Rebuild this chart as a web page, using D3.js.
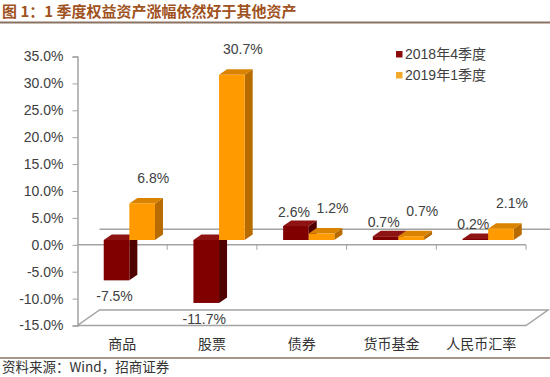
<!DOCTYPE html>
<html>
<head>
<meta charset="utf-8">
<script src="https://cdn.jsdelivr.net/npm/d3@7"></script>
<style>
  body { margin: 0; background: #fff; }
  svg text { font-family: "Liberation Sans", Arial, "Noto Sans CJK SC", sans-serif; }
</style>
</head>
<body>
<div id="chart"></div>
<script>
const categories = ['商品', '股票', '债券', '货币基金', '人民币汇率'];
const seriesNames = ['2018年4季度', '2019年1季度'];
const q4_2018 = [-7.5, -11.7, 2.6, 0.7, 0.2];
const q1_2019 = [6.8, 30.7, 1.2, 0.7, 2.1];
const yTicks = [-15, -10, -5, 0, 5, 10, 15, 20, 25, 30, 35];

const width = 550, height = 377;
const depthX = 22, depthY = 15.5;     // floor depth
const frontX = 7, frontY = 4.8;       // bars sit a bit behind the front plane
const barDX = 8, barDY = 5.5;         // bar depth

const colors = [
  {front: '#800000', side: '#4f0000', top: '#8e1414', legend: '#8b0a0a'},
  {front: '#ff9a00', side: '#b86c00', top: '#d98300', legend: '#f2aa2c'}
];

// plain hyphen instead of d3's unicode minus
const pct = d => d3.format('.1f')(d).replace('\u2212', '-') + '%';

const svg = d3.select('#chart')
              .append('svg')
              .attr('width', width)
              .attr('height', height);

// title + rules
svg.append('text')
   .attr('x', 2)
   .attr('y', 17)
   .style('font-family', '"Noto Sans CJK SC", sans-serif')
   .style('font-weight', 'bold')
   .style('font-size', '15px')
   .style('fill', '#a0521e')
   .text('图 1：1 季度权益资产涨幅依然好于其他资产');

svg.append('line')
   .attr('x1', 0).attr('x2', width)
   .attr('y1', 22.5).attr('y2', 22.5)
   .style('stroke', '#8a7262')
   .style('stroke-width', 2);

svg.append('line')
   .attr('x1', 0).attr('x2', width)
   .attr('y1', 358).attr('y2', 358)
   .style('stroke', '#8a7262')
   .style('stroke-width', 1.5);

svg.append('text')
   .attr('x', 2)
   .attr('y', 372)
   .style('font-family', '"Noto Sans CJK SC", sans-serif')
   .style('font-size', '13.5px')
   .style('fill', '#333')
   .text('资料来源：Wind，招商证券');

// scales
let scaleX = d3.scaleBand().domain(categories).range([77.5, 526]).padding(0);
let scaleS = d3.scaleBand().domain([0, 1]).range([0, scaleX.bandwidth()]).paddingInner(0).paddingOuter(0.75);
let scaleY = d3.scaleLinear().domain([-15, 35]).range([325.5, 56.5]);

const gridColor = '#a3a3a3';
const y0 = scaleY(0), yMin = scaleY(-15);
const xL = scaleX.range()[0], xR = scaleX.range()[1];

// floor
svg.append('path')
   .attr('d', `M${xL},${yMin} L${xR},${yMin} L${xR+depthX},${yMin-depthY} L${xL+depthX},${yMin-depthY} Z`)
   .style('fill', '#fff')
   .style('stroke', gridColor)
   .style('stroke-width', 1.5);

// back zero gridline
svg.append('line')
   .attr('x1', xL + depthX).attr('x2', width)
   .attr('y1', y0 - depthY).attr('y2', y0 - depthY)
   .style('stroke', gridColor)
   .style('stroke-width', 1.5);

// y axis
let yAxis = d3.axisLeft(scaleY)
              .tickValues(yTicks)
              .tickSize(5)
              .tickPadding(9)
              .tickFormat(pct);

let yAxisGroup = svg.append('g')
                    .attr('transform', `translate(${xL},0)`)
                    .call(yAxis);
yAxisGroup.select('.domain').style('stroke', gridColor).style('stroke-width', 1.5);
yAxisGroup.selectAll('.tick line').style('stroke', gridColor).style('stroke-width', 1);
yAxisGroup.selectAll('.tick text')
          .style('font-size', '14px')
          .style('fill', '#404040');

// front zero axis with category ticks
svg.append('line')
   .attr('x1', xL).attr('x2', xR)
   .attr('y1', y0).attr('y2', y0)
   .style('stroke', gridColor)
   .style('stroke-width', 1.5);

svg.selectAll('.catTick')
   .data(categories)
   .enter()
   .append('line')
   .attr('class', 'catTick')
   .attr('x1', d => scaleX(d) + scaleX.bandwidth())
   .attr('x2', d => scaleX(d) + scaleX.bandwidth())
   .attr('y1', y0).attr('y2', y0 + 5)
   .style('stroke', gridColor)
   .style('stroke-width', 1);

// category labels
svg.selectAll('.catLabel')
   .data(categories)
   .enter()
   .append('text')
   .attr('class', 'catLabel')
   .attr('x', d => scaleX(d) + scaleX.bandwidth() / 2)
   .attr('y', 349)
   .style('text-anchor', 'middle')
   .style('font-family', '"Noto Sans CJK SC", sans-serif')
   .style('font-size', '14px')
   .style('fill', '#333')
   .text(d => d);

// bars
let bars = [];
categories.forEach((c, i) => {
    [q4_2018[i], q1_2019[i]].forEach((v, s) => {
        bars.push({cat: c, s: s, v: v});
    });
});

bars.forEach(b => {
    let bw = scaleS.bandwidth();
    let x0 = scaleX(b.cat) + scaleS(b.s) + frontX;
    let x1 = x0 + bw;
    let yTop = Math.min(scaleY(0), scaleY(b.v)) - frontY;
    let yBot = Math.max(scaleY(0), scaleY(b.v)) - frontY;
    let g = svg.append('g');
    g.append('path')
     .attr('d', `M${x1},${yTop} L${x1+barDX},${yTop-barDY} L${x1+barDX},${yBot-barDY} L${x1},${yBot} Z`)
     .style('fill', colors[b.s].side);
    g.append('path')
     .attr('d', `M${x0},${yTop} L${x0+barDX},${yTop-barDY} L${x1+barDX},${yTop-barDY} L${x1},${yTop} Z`)
     .style('fill', colors[b.s].top);
    g.append('rect')
     .attr('x', x0).attr('y', yTop)
     .attr('width', bw).attr('height', yBot - yTop)
     .style('fill', colors[b.s].front);
    b.x0 = x0; b.x1 = x1; b.yTop = yTop; b.yBot = yBot;
});

// data labels
svg.selectAll('.valLabel')
   .data(bars)
   .enter()
   .append('text')
   .attr('class', 'valLabel')
   .attr('x', d => (d.x0 + d.x1) / 2 + (d.s == 0 ? -2 : 11))
   .attr('y', d => {
       if (d.v < 0) { return d.yBot + 21; }
       else if (d.s == 0) { return d.yTop - barDY - 4; }
       else { return d.yTop - barDY - 15; }
   })
   .style('text-anchor', 'middle')
   .style('font-size', '14px')
   .style('fill', '#404040')
   .text(d => pct(d.v));

// legend
let legend = svg.selectAll('.legend')
                .data(seriesNames)
                .enter()
                .append('g')
                .attr('class', 'legend')
                .attr('transform', (d, i) => `translate(396,${54 + i * 21})`);

legend.append('rect')
      .attr('x', 0).attr('y', -3)
      .attr('width', 6.5).attr('height', 6.5)
      .style('fill', (d, i) => colors[i].legend);

legend.append('text')
      .attr('x', 9)
      .attr('y', 5)
      .style('font-size', '14px')
      .style('fill', '#404040')
      .text(d => d);
</script>
</body>
</html>
